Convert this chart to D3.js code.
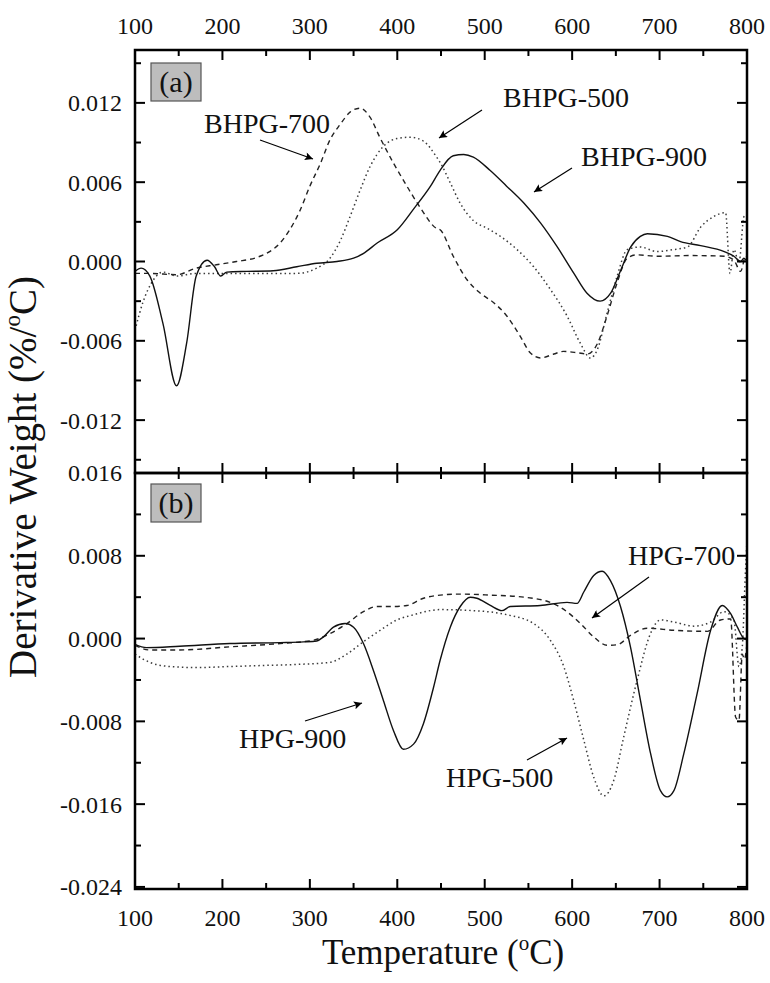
<!DOCTYPE html>
<html>
<head>
<meta charset="utf-8">
<script src="https://cdn.jsdelivr.net/npm/d3@7"></script>
<style>
  html, body { margin: 0; padding: 0; background: #fff; }
  svg text { font-family: "Liberation Serif", "Times New Roman", serif; fill: #111; }
</style>
</head>
<body>
<svg id="chart" width="770" height="983"></svg>
<script>
// ---------------- data (Temperature °C, derivative weight %/°C) ----------------
const xTicks = [100, 200, 300, 400, 500, 600, 700, 800];
const yTicksA = [0.012, 0.006, 0.000, -0.006, -0.012];
const yTicksB = [0.016, 0.008, 0.000, -0.008, -0.016, -0.024];

const bhpg900 = [[100,-0.00075],[107,-0.0005],[117,-0.0011],[132,-0.0047],[147.5,-0.0094],[159,-0.0062],[170,-0.0011],[182.5,0.0001],[191,-0.0004],[198,-0.0011],[205,-0.0008],[228,-0.00075],[258,-0.0007],[285,-0.0004],[308,-0.00013],[331,0.0],[350,0.00025],[361,0.0006],[377,0.0014],[400,0.0024],[419,0.004],[438,0.0057],[449,0.0069],[464,0.008],[476,0.0081],[487,0.0079],[506,0.0069],[525,0.0057],[545,0.0044],[564,0.0029],[583,0.0011],[602,-0.0009],[617,-0.0024],[632,-0.003],[644,-0.0024],[655,-0.00075],[667,0.0011],[678,0.0019],[686,0.0021],[709,0.0019],[724,0.0015],[747,0.0012],[774,0.00075],[785,0.0004],[792.7,0.0],[796.5,0.00025],[800,0.0]];
const bhpg700 = [[100,-0.0009],[117,-0.0009],[147.5,-0.001],[170,-0.0005],[193,-0.00025],[216,0.0],[239,0.0003],[254,0.00075],[266,0.0014],[277,0.0024],[289,0.0039],[300,0.0057],[312,0.0074],[323,0.0092],[335,0.0104],[346,0.0113],[357.5,0.0116],[369,0.0109],[380,0.0094],[396,0.0074],[411,0.0057],[426,0.0041],[445,0.0025],[449,0.0024],[464,0.0004],[480,-0.0014],[495,-0.0024],[510,-0.0031],[525,-0.0041],[541,-0.0057],[552,-0.0069],[564,-0.0073],[579,-0.007],[590,-0.0068],[606,-0.0069],[617,-0.007],[629,-0.0062],[640,-0.0041],[651.5,-0.0016],[663,0.00025],[674,0.0005],[697,0.0004],[735,0.00045],[774,0.0004],[785,0.0001],[792.7,-0.00075],[798.5,0.0004],[800,0.0003]];
const bhpg500 = [[100,-0.0052],[109,-0.0031],[121,-0.0014],[132,-0.0008],[147.5,-0.0011],[170,-0.0009],[209,-0.0009],[247,-0.0009],[285,-0.0009],[308,-0.0005],[323,0.00025],[335,0.0016],[346,0.0034],[357.5,0.0054],[369,0.0072],[384,0.0087],[399.5,0.0093],[415,0.0094],[430,0.0091],[445,0.0079],[449,0.0075],[461,0.0059],[472,0.0044],[487,0.0031],[503,0.0025],[518,0.0019],[537,0.0009],[556,-0.0004],[575,-0.0021],[594,-0.0041],[609.5,-0.0062],[621,-0.0073],[628.6,-0.0067],[640,-0.0039],[651.5,-0.0011],[663,0.0009],[678,0.0011],[697,0.00075],[716,0.0009],[732,0.0011],[747,0.0026],[762,0.0034],[775.5,0.0037],[780.5,-0.0009],[785,0.0009],[790.8,-0.0001],[796.5,0.0034],[800,0.0036]];

const hpg900 = [[100,-0.00055],[113,-0.00087],[151,-0.00074],[208.6,-0.00048],[266,-0.00039],[292.6,-0.00032],[308,-0.00023],[315.5,0.00016],[327,0.0011],[340.3,0.00145],[350,0.0011],[361.3,-0.00048],[372.8,-0.0031],[384.2,-0.006],[395.7,-0.0089],[407,-0.0107],[418.6,-0.0102],[430,-0.0082],[441.5,-0.0047],[449,-0.0021],[460.6,0.0011],[472,0.0031],[483.5,0.004],[491,0.0039],[506.4,0.0032],[519.7,0.0027],[529.3,0.0031],[563.6,0.0032],[594.2,0.0035],[605.6,0.0034],[613.3,0.0045],[624.7,0.0061],[634.3,0.0065],[643.8,0.0056],[655.3,0.0031],[666.7,-0.0008],[678.2,-0.006],[689.7,-0.0111],[701,-0.0147],[708.7,-0.0153],[716.4,-0.0147],[727.8,-0.0111],[743,-0.0053],[758.4,0.0008],[771.7,0.0032],[781.3,0.0024],[789,0.0011],[796.5,0.0],[800,-0.0001]];
const hpg700 = [[100,-0.00065],[117,-0.0011],[151,-0.0011],[208.6,-0.0008],[266,-0.00048],[304,-0.00016],[323,0.00048],[342.3,0.00145],[361.3,0.0026],[376.6,0.0031],[395.7,0.0031],[411,0.0032],[430,0.0039],[449,0.0042],[472,0.0043],[506.4,0.0042],[544.6,0.004],[575,0.0035],[594,0.0026],[609.5,0.00145],[624.7,0.00016],[640,-0.00065],[651.5,-0.0006],[666.7,0.0003],[685.8,0.001],[716.4,0.0008],[754.6,0.0007],[769.8,0.0018],[781.3,0.0019],[787,-0.0076],[790.8,-0.0079],[794.6,-0.0015],[797,-0.002],[800,-0.0005]];
const hpg500 = [[100,-0.0015],[117,-0.0023],[140,-0.0027],[170,-0.0028],[208.6,-0.0027],[247,-0.0026],[285,-0.0025],[323,-0.0023],[342.3,-0.0015],[361.3,-0.0003],[380.4,0.0008],[399.5,0.0018],[418.6,0.0023],[437.7,0.0027],[449,0.0028],[487.3,0.0027],[525.5,0.0023],[556,0.00145],[575,-0.00016],[590.4,-0.0027],[601.8,-0.006],[613.3,-0.0098],[624.7,-0.0134],[636.2,-0.0152],[647.6,-0.0137],[659,-0.0095],[674.4,-0.004],[689.7,0.0005],[701,0.0018],[716.4,0.0016],[739.3,0.0012],[758.4,0.0016],[773.6,0.0026],[785,0.0018],[790.8,-0.0027],[794.6,-0.0008],[798,0.006],[800,0.0095]];

// ---------------- layout ----------------
const svg = d3.select("#chart");
const L = 135, R = 747;
const A = {top: 50, bottom: 473};
const B = {top: 473, bottom: 889};

const x = d3.scaleLinear().domain([100, 800]).range([L, R]);
const yA = d3.scaleLinear().domain([-0.016, 0.016]).range([A.bottom, A.top]);
const yB = d3.scaleLinear().domain([-0.0242, 0.016]).range([B.bottom, B.top]);

const styles = {
  solid:  {stroke: "#111", width: 1.4, dash: null},
  dashed: {stroke: "#222", width: 1.4, dash: "5,4"},
  dotted: {stroke: "#3a3a3a", width: 1.5, dash: "1.5,3"}
};

function drawLine(data, y, st, clipId) {
  const line = d3.line().x(d => x(d[0])).y(d => y(d[1])).curve(d3.curveMonotoneX);
  svg.append("path").datum(data)
    .attr("clip-path", `url(#${clipId})`)
    .attr("fill", "none")
    .attr("stroke", st.stroke)
    .attr("stroke-width", st.width)
    .attr("stroke-dasharray", st.dash)
    .attr("stroke-linejoin", "round")
    .attr("d", line);
}

const defs = svg.append("defs");
defs.append("clipPath").attr("id", "clipA").append("rect")
  .attr("x", L).attr("y", A.top).attr("width", R - L).attr("height", A.bottom - A.top);
defs.append("clipPath").attr("id", "clipB").append("rect")
  .attr("x", L).attr("y", B.top).attr("width", R - L).attr("height", B.bottom - B.top);
defs.append("marker").attr("id", "arrow").attr("viewBox", "0 0 10 10")
  .attr("refX", 10).attr("refY", 5).attr("markerWidth", 14).attr("markerHeight", 8)
  .attr("markerUnits", "userSpaceOnUse").attr("orient", "auto")
  .append("path").attr("d", "M0,0 L10,5 L0,10 L2,5 Z").attr("fill", "#000");

// curves
drawLine(bhpg700, yA, styles.dashed, "clipA");
drawLine(bhpg500, yA, styles.dotted, "clipA");
drawLine(bhpg900, yA, styles.solid, "clipA");
drawLine(hpg700, yB, styles.dashed, "clipB");
drawLine(hpg500, yB, styles.dotted, "clipB");
drawLine(hpg900, yB, styles.solid, "clipB");

// ---------------- axes ----------------
const tickFont = 24;
function xAxisTicks(yPos, dir) {
  const minor = d3.range(150, 800, 100);
  const g = svg.append("g");
  xTicks.forEach(t => g.append("line").attr("x1", x(t)).attr("x2", x(t))
    .attr("y1", yPos).attr("y2", yPos + dir * 10).attr("stroke", "#000").attr("stroke-width", 2));
  minor.forEach(t => g.append("line").attr("x1", x(t)).attr("x2", x(t))
    .attr("y1", yPos).attr("y2", yPos + dir * 6).attr("stroke", "#000").attr("stroke-width", 2));
}
xAxisTicks(A.top, 1);
xAxisTicks(A.bottom, -1);
xAxisTicks(B.top, 1);
xAxisTicks(B.bottom, -1);

function yAxisTicks(y, major, minor) {
  const g = svg.append("g");
  major.forEach(v => {
    g.append("line").attr("x1", L).attr("x2", L + 10).attr("y1", y(v)).attr("y2", y(v)).attr("stroke", "#000").attr("stroke-width", 2);
    g.append("line").attr("x1", R).attr("x2", R - 10).attr("y1", y(v)).attr("y2", y(v)).attr("stroke", "#000").attr("stroke-width", 2);
  });
  minor.forEach(v => {
    g.append("line").attr("x1", L).attr("x2", L + 6).attr("y1", y(v)).attr("y2", y(v)).attr("stroke", "#000").attr("stroke-width", 2);
    g.append("line").attr("x1", R).attr("x2", R - 6).attr("y1", y(v)).attr("y2", y(v)).attr("stroke", "#000").attr("stroke-width", 2);
  });
}
yAxisTicks(yA, yTicksA, [0.015, 0.009, 0.003, -0.003, -0.009, -0.015]);
yAxisTicks(yB, yTicksB, [0.012, 0.004, -0.004, -0.012, -0.020]);

// tick labels
const fmt = d3.format(".3f");
yTicksA.forEach(v => svg.append("text").attr("x", L - 13).attr("y", yA(v)).attr("dy", "0.35em")
  .attr("text-anchor", "end").attr("font-size", tickFont).text(fmt(v).replace("−", "-")));
yTicksB.forEach(v => svg.append("text").attr("x", L - 13).attr("y", yB(v)).attr("dy", "0.35em")
  .attr("text-anchor", "end").attr("font-size", tickFont).text(fmt(v).replace("−", "-")));
xTicks.forEach(t => {
  svg.append("text").attr("x", x(t)).attr("y", 34).attr("text-anchor", "middle")
    .attr("font-size", tickFont).text(t);
  svg.append("text").attr("x", x(t)).attr("y", 926).attr("text-anchor", "middle")
    .attr("font-size", tickFont).text(t);
});

// frames
[A, B].forEach(p => svg.append("rect").attr("x", L).attr("y", p.top)
  .attr("width", R - L).attr("height", p.bottom - p.top)
  .attr("fill", "none").attr("stroke", "#000").attr("stroke-width", 2.5));

// axis titles
const xt = svg.append("text").attr("x", (L + R) / 2 + 2).attr("y", 964).attr("text-anchor", "middle").attr("font-size", 35);
xt.append("tspan").text("Temperature (");
xt.append("tspan").attr("font-size", 21).attr("dy", -14).text("o");
xt.append("tspan").attr("dy", 14).text("C)");

const yt = svg.append("text").attr("transform", "translate(36,477) rotate(-90)").attr("text-anchor", "middle").attr("font-size", 39);
yt.append("tspan").text("Derivative Weight (%/");
yt.append("tspan").attr("font-size", 23).attr("dy", -16).text("o");
yt.append("tspan").attr("dy", 16).text("C)");

// panel tags
function tag(lbl, x0, y0) {
  svg.append("rect").attr("x", x0).attr("y", y0).attr("width", 50).attr("height", 38)
    .attr("fill", "#bdbdbd").attr("stroke", "#555").attr("stroke-width", 1.2);
  svg.append("text").attr("x", x0 + 25).attr("y", y0 + 29).attr("text-anchor", "middle")
    .attr("font-size", 30).text(lbl);
}
tag("(a)", 151, 63);
tag("(b)", 151, 484);

// annotations
const annFont = 28;
function annot(txt, tx, ty, x1, y1, x2, y2) {
  svg.append("text").attr("x", tx).attr("y", ty).attr("font-size", annFont).text(txt);
  svg.append("line").attr("x1", x1).attr("y1", y1).attr("x2", x2).attr("y2", y2)
    .attr("stroke", "#000").attr("stroke-width", 1.2).attr("marker-end", "url(#arrow)");
}
annot("BHPG-700", 204, 133, 260, 140, 313, 159);
annot("BHPG-500", 503, 107, 482, 110, 439, 138);
annot("BHPG-900", 581, 166, 572, 168, 534, 192);
annot("HPG-700", 628, 565, 649, 577, 592, 618);
annot("HPG-900", 239, 748, 305, 721, 362, 703);
annot("HPG-500", 446, 787, 527, 760, 567, 738);
</script>
</body>
</html>
